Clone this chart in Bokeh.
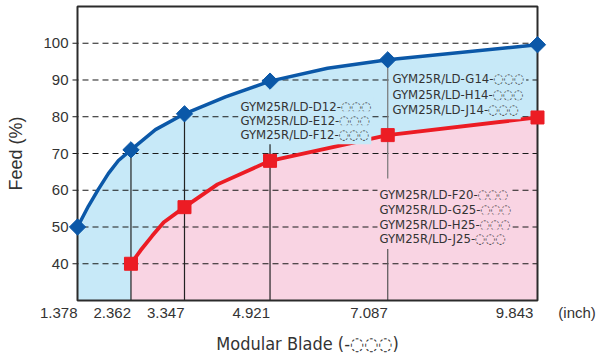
from bokeh.plotting import figure
from bokeh.models import FixedTicker, Label, Range1d
from bokeh.embed import file_html
from bokeh.resources import INLINE
import numpy as np

# ---- data ----
x_ticks = [1.378, 2.362, 3.347, 4.921, 7.087, 9.843]
x_tick_labels = ["1.378", "2.362", "3.347", "4.921", "7.087", "9.843"]
x_unit = "(inch)"
y_ticks = [40, 50, 60, 70, 80, 90, 100]

blue_x = [1.378, 2.362, 3.347, 4.921, 7.087, 9.843]
blue_y = [50, 71, 80.8, 89.7, 95.5, 99.6]
red_x = [2.362, 3.347, 4.921, 7.087, 9.843]
red_y = [40, 55.4, 68, 75, 79.8]

# curve traces (smooth lines between markers)
blue_curve_x = [1.378, 1.580, 1.764, 1.948, 2.132, 2.362, 2.813, 3.347, 4.101, 4.921, 5.979, 7.087, 9.843]
blue_curve_y = [50, 55.7, 60.3, 64.6, 68.1, 71, 76.5, 80.8, 85.4, 89.7, 93.2, 95.5, 99.6]
red_curve_x = [2.362, 2.537, 2.753, 2.966, 3.347, 3.954, 4.921, 7.087, 9.843]
red_curve_y = [40, 43.6, 47.6, 51.3, 55.4, 61.6, 68, 75, 79.8]

# leader lines (x, y_top, y_bottom)
lead_x = [2.362, 3.347, 4.921, 7.087, 7.087]
lead_top = [71, 80.8, 73.5, 95.5, 44.0]
lead_bot = [30, 30, 30, 63.2, 30]
lead_col = ["#222222", "#222222", "#222222", "#777777", "#555555"]

labels_mid = ["GYM25R/LD-D12-◌◌◌", "GYM25R/LD-E12-◌◌◌", "GYM25R/LD-F12-◌◌◌"]
labels_up = ["GYM25R/LD-G14-◌◌◌", "GYM25R/LD-H14-◌◌◌", "GYM25R/LD-J14-◌◌◌"]
labels_low = ["GYM25R/LD-F20-◌◌◌", "GYM25R/LD-G25-◌◌◌", "GYM25R/LD-H25-◌◌◌", "GYM25R/LD-J25-◌◌◌"]

X0, X1 = 1.378, 9.843
Y0, Y1 = 30, 110

BLUE = "#0b58a8"
RED = "#ec1c24"
LBLUE = "#c7e9f8"
PINK = "#f9d4e3"
TXT = "#333333"
FONT = "Liberation Sans"
CFONT = "DejaVu Sans Condensed"

PXU = 460 / (X1 - X0)       # pixels per x unit
PYU = 3.7                   # pixels per y unit
padx = 9 / PXU

p = figure(width=603, height=356,
           x_range=Range1d(X0 - padx, X1 + padx),
           y_range=Range1d(Y0 - 2 / PYU, Y0 + 298 / PYU),
           output_backend="svg", toolbar_location=None,
           min_border_left=68, min_border_right=57, min_border_top=4, min_border_bottom=52)
p.background_fill_color = "white"
p.outline_line_color = None
p.xgrid.visible = False
p.ygrid.visible = False

# fills
p.varea(x=blue_curve_x, y1=[Y0] * len(blue_curve_x), y2=blue_curve_y, fill_color=LBLUE)
p.varea(x=red_curve_x, y1=[Y0] * len(red_curve_x), y2=red_curve_y, fill_color=PINK)

# dashed grid lines (start a little left of the frame like short ticks)
p.segment(x0=[X0 - 5 / PXU] * len(y_ticks), x1=[X1] * len(y_ticks), y0=y_ticks, y1=y_ticks,
          line_color="#1a1a1a", line_width=1, line_dash="6 4")

# leader lines
p.segment(x0=lead_x, y0=lead_bot, x1=lead_x, y1=lead_top, line_color=lead_col, line_width=1.2)

# frame
p.quad(left=[X0], right=[X1], bottom=[Y0], top=[Y1], fill_color=None,
       line_color="#2b2b2b", line_width=2)

# curves
p.line(blue_curve_x, blue_curve_y, line_color=BLUE, line_width=3.5)
p.line(red_curve_x, red_curve_y, line_color=RED, line_width=3.8)
p.scatter(blue_x, blue_y, marker="square", angle=np.pi / 4, size=11.5, fill_color=BLUE, line_color=BLUE)
p.scatter(red_x, red_y, marker="square", size=13, fill_color=RED, line_color=RED)

# axes
NB = "\u00a0"
overrides = {t: s + NB * 9 for t, s in zip(x_ticks, x_tick_labels)}
overrides[x_ticks[-1]] = NB * 4 + x_tick_labels[-1] + NB * 6 + x_unit
p.xaxis.ticker = FixedTicker(ticks=x_ticks)
p.xaxis.major_label_overrides = overrides
p.yaxis.ticker = FixedTicker(ticks=y_ticks)
for ax in (p.xaxis[0], p.yaxis[0]):
    ax.axis_line_color = None
    ax.minor_tick_line_color = None
    ax.major_tick_line_color = None
    ax.major_tick_out = 0
    ax.major_tick_in = 0
    ax.major_label_text_font = FONT
    ax.major_label_text_font_size = "15px"
    ax.major_label_text_color = TXT
    ax.axis_label_text_font = FONT
    ax.axis_label_text_font_size = "18px"
    ax.axis_label_text_font_style = "normal"
    ax.axis_label_text_color = TXT
p.xaxis.axis_label_text_font = CFONT
p.xaxis.major_label_standoff = 1
p.yaxis.major_label_standoff = 0
p.xaxis.axis_label = "Modular Blade (-◌◌◌)"
p.yaxis.axis_label = "Feed (%)"
p.xaxis.axis_label_standoff = 9
p.yaxis.axis_label_standoff = 14

def add_group(texts, px, pys, bg):
    for t, py in zip(texts, pys):
        p.add_layout(Label(x=X0 + (px - 77) / PXU, y=Y0 + (302 - py) / PYU, text=t,
                           text_font=CFONT, text_font_size="13px",
                           text_color=TXT, text_baseline="alphabetic",
                           background_fill_color=bg, padding=2))

add_group(labels_mid, 238, [106.7, 121, 135], LBLUE)
add_group(labels_up, 390, [78.3, 94.3, 110], LBLUE)
add_group(labels_low, 377, [195, 210, 225, 240], PINK)

open("out.html", "w").write(file_html(p, INLINE))
